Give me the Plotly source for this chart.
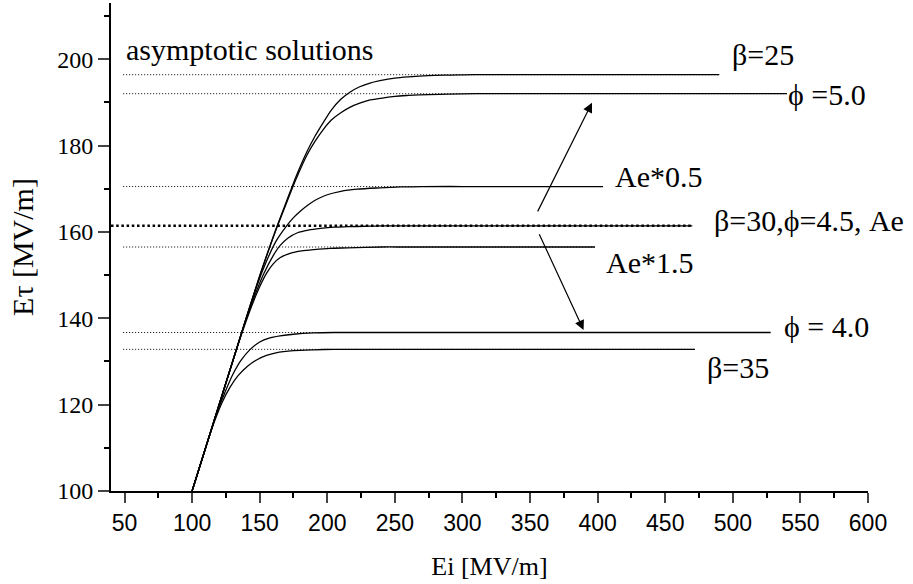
import plotly.graph_objects as go

# ---- data (Ei [MV/m], Etau [MV/m]) ----
beta25_x = [100, 140, 150, 157, 162.7, 170.2, 177, 185, 191, 197, 203, 210, 217, 224, 231, 239, 250, 260, 275, 290, 310, 330, 490]
beta25_y = [100, 140, 149.8, 156.2, 161.2, 167.4, 172.9, 178.6, 182.2, 185.3, 188.2, 190.7, 192.4, 193.6, 194.4, 195.0, 195.6, 195.9, 196.2, 196.3, 196.4, 196.4, 196.4]

phi50_x = [100, 140, 150, 157, 162.7, 170.2, 177, 185, 191, 197, 203, 210, 217, 224, 231, 239, 250, 260, 275, 290, 310, 330, 540]
phi50_y = [100, 140, 149.8, 156.1, 161.0, 167.0, 172.3, 177.8, 181.0, 183.7, 185.9, 187.6, 188.9, 189.8, 190.5, 190.9, 191.4, 191.6, 191.8, 191.9, 192.0, 192.0, 192.0]

ae05_x = [100, 140, 148, 155, 162, 170.2, 175, 180, 186, 192, 200, 210, 222, 239, 255, 270, 300, 404]
ae05_y = [100, 140, 147.6, 153.2, 157.8, 161.5, 163.3, 164.8, 166.3, 167.5, 168.6, 169.4, 169.9, 170.2, 170.4, 170.5, 170.5, 170.5]

base_x = [100, 136, 142, 147, 153, 160, 165, 171, 178, 186, 195, 205, 215, 228, 240, 260, 470]
base_y = [100, 136, 141.6, 145.8, 150.3, 154.5, 156.8, 158.6, 159.8, 160.4, 160.8, 161.1, 161.2, 161.3, 161.4, 161.4, 161.4]

ae15_x = [100, 132, 138, 144, 150, 155, 160, 165, 173, 181, 190, 202, 215, 240, 260, 398]
ae15_y = [100, 132, 137.6, 142.8, 147.3, 150.4, 152.6, 154.0, 155.1, 155.6, 155.9, 156.2, 156.3, 156.5, 156.5, 156.5]

phi40_x = [100, 114, 119, 124, 130, 136, 143, 150, 157, 165, 175, 190, 205, 220, 528]
phi40_y = [100, 114, 118.7, 122.6, 126.9, 130.2, 132.8, 134.5, 135.4, 135.9, 136.3, 136.6, 136.7, 136.7, 136.7]

beta35_x = [100, 112, 117, 122, 128, 134, 141, 148, 155, 162, 175, 190, 205, 220, 472]
beta35_y = [100, 112, 116.5, 120.4, 124.0, 126.7, 128.9, 130.4, 131.4, 132.0, 132.5, 132.7, 132.8, 132.8, 132.8]

# asymptotic solutions (value, end of line)
asym_values = [196.4, 192.0, 170.5, 156.5, 136.7, 132.8]
asym_ends = [490, 540, 404, 398, 528, 472]
base_asym = 161.4

x_ticks = [50, 100, 150, 200, 250, 300, 350, 400, 450, 500, 550, 600]
y_ticks = [100, 120, 140, 160, 180, 200]

curves = [
    (beta25_x, beta25_y), (phi50_x, phi50_y), (ae05_x, ae05_y),
    (base_x, base_y), (ae15_x, ae15_y), (phi40_x, phi40_y), (beta35_x, beta35_y),
]

fig = go.Figure()

for v, e in zip(asym_values, asym_ends):
    fig.add_trace(go.Scatter(x=[49, e], y=[v, v], mode="lines",
                             line=dict(color="black", width=1, dash="1px,2px"),
                             hoverinfo="skip", showlegend=False))

fig.add_trace(go.Scatter(x=[40, 470], y=[base_asym, base_asym], mode="lines",
                         line=dict(color="black", width=2.5, dash="2.5px,2.7px"),
                         hoverinfo="skip", showlegend=False))

for cx, cy in curves:
    fig.add_trace(go.Scatter(x=cx, y=cy, mode="lines",
                             line=dict(color="black", width=1.3, shape="spline", smoothing=0.8),
                             showlegend=False))

serif = '"Liberation Serif"'
sans = '"Liberation Sans"'

labels = [
    ("β=25", 497.6, 201.0),
    ("ϕ =5.0", 539.3, 191.9),
    ("Ae*0.5", 411.3, 172.9),
    ("β=30,ϕ=4.5, Ae", 484.6, 162.6),
    ("Ae*1.5", 404.4, 152.9),
    ("ϕ = 4.0", 536.4, 138.0),
    ("β=35", 479.6, 128.7),
    ("asymptotic solutions", 49.3, 202.3),
]
for t, x, y in labels:
    fig.add_annotation(x=x, y=y, text=t, showarrow=False, xanchor="left", yanchor="middle",
                       font=dict(family=serif, size=30, color="black"))

# arrows
fig.add_annotation(x=395.8, y=189.9, ax=355.1, ay=164.4, xref="x", yref="y", axref="x", ayref="y",
                   text="", showarrow=True, arrowhead=2, arrowsize=1.6, arrowwidth=1.2, arrowcolor="black")
fig.add_annotation(x=389.6, y=137.3, ax=356.3, ay=159.8, xref="x", yref="y", axref="x", ayref="y",
                   text="", showarrow=True, arrowhead=2, arrowsize=1.6, arrowwidth=1.2, arrowcolor="black")

fig.update_layout(
    width=913, height=584,
    margin=dict(l=111, r=45, t=3, b=93),
    plot_bgcolor="white", paper_bgcolor="white",
    font=dict(family=serif, color="black"),
    xaxis=dict(range=[40, 600], tickvals=x_ticks, ticks="outside", ticklen=10, tickwidth=2,
               showline=True, linewidth=2, linecolor="black", showgrid=False, zeroline=False,
               tickfont=dict(family=sans, size=23, color="black"),
               minor=dict(tickvals=[75, 125, 175, 225, 275, 325, 375, 425, 475, 525, 575],
                          ticks="outside", ticklen=5, tickwidth=2, tickcolor="black", showgrid=False),
               title=dict(text="Ei [MV/m]", font=dict(family=serif, size=26, color="black"), standoff=22)),
    yaxis=dict(range=[100, 213], tickvals=y_ticks, ticks="outside", ticklen=11, tickwidth=2,
               showline=True, linewidth=2, linecolor="black", showgrid=False, zeroline=False,
               tickfont=dict(family=serif, size=24, color="black"),
               minor=dict(tickvals=[110, 130, 150, 170, 190, 210],
                          ticks="outside", ticklen=5, tickwidth=2, tickcolor="black", showgrid=False),
               title=dict(text="Eτ [MV/m]", font=dict(family=serif, size=30, color="black"), standoff=15)),
)

fig.write_html("out.html")
